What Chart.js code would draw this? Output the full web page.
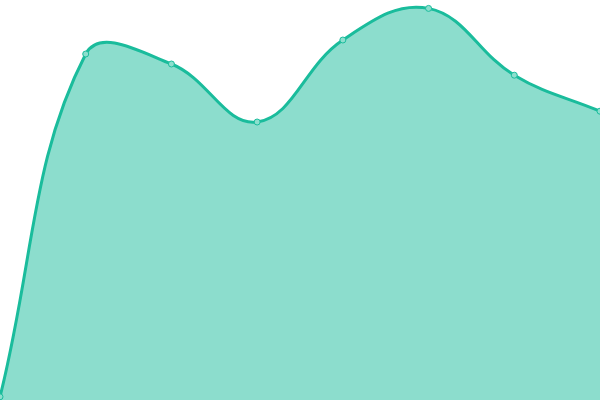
<!DOCTYPE html>
<html>
<head>
<meta charset="utf-8">
<script src="https://cdn.jsdelivr.net/npm/chart.js@4"></script>
<style>
  html, body { margin: 0; padding: 0; background: #fff; }
  #wrap { width: 600px; height: 400px; }
</style>
</head>
<body>
<div id="wrap"><canvas id="areaChart"></canvas></div>
<script>
// values (0-100 scale)
const labels = ['1', '2', '3', '4', '5', '6', '7', '8'];
const values = [0.8, 86.5, 84, 69.5, 90, 97.9, 81.2, 72.2];

new Chart(document.getElementById('areaChart'), {
    type: 'line',
    data: {
        labels: labels,
        datasets: [{
            data: values,
            borderColor: '#1abc9c',
            backgroundColor: 'rgba(26, 188, 156, 0.5)',
            borderWidth: 3,
            fill: true,
            tension: 0.4,
            pointRadius: 3,
            pointBackgroundColor: '#8ddfce',
            pointBorderColor: '#1abc9c',
            pointBorderWidth: 1
        }]
    },
    options: {
        responsive: true,
        maintainAspectRatio: false,
        animation: false,
        layout: { padding: 0, autoPadding: false },
        plugins: {
            legend: { display: false },
            tooltip: { enabled: false }
        },
        scales: {
            x: { display: false, offset: false },
            y: { display: false, min: 0, max: 100 }
        }
    }
});
</script>
</body>
</html>
